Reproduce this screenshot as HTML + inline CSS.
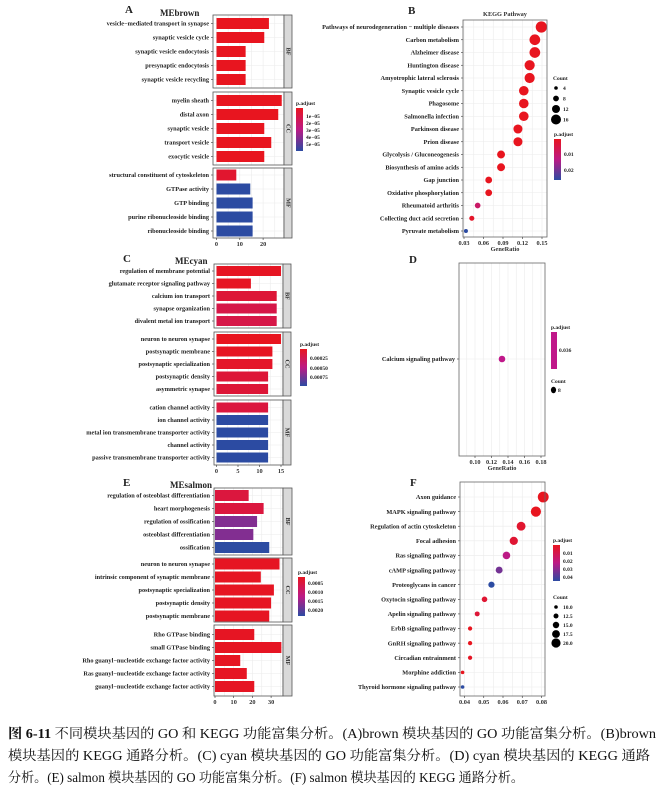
<!DOCTYPE html>
<html><head><meta charset="utf-8"><style>
html,body{margin:0;padding:0;background:#fff;}
svg{display:block;}
text{font-family:"Liberation Serif","Noto Serif CJK SC",serif;}
.lbl{font-size:6.3px;font-weight:bold;fill:#222;}
.tick{font-size:6.3px;font-weight:bold;fill:#333;}
.ttl{font-size:9px;font-weight:bold;fill:#222;}
.pl{font-size:11px;font-weight:bold;fill:#222;}
.leg{font-size:5.5px;font-weight:bold;fill:#222;}
.cap{font-size:13.5px;fill:#111;}
</style></head><body>
<svg id="fig" width="660" height="801" viewBox="0 0 660 801" xmlns="http://www.w3.org/2000/svg">
<defs>
<linearGradient id="pgrad" x1="0" y1="0" x2="0" y2="1">
<stop offset="0" stop-color="#e8151f"/><stop offset="0.5" stop-color="#bc1a85"/><stop offset="1" stop-color="#2c4ba2"/>
</linearGradient>
</defs>
<g id="root"></g>
<g>
<text class="cap" x="8" y="738" textLength="648" lengthAdjust="spacingAndGlyphs"><tspan font-weight="bold">图 6-11</tspan> 不同模块基因的 GO 和 KEGG 功能富集分析。(A)brown 模块基因的 GO 功能富集分析。(B)brown</text>
<text class="cap" x="8" y="760" textLength="642" lengthAdjust="spacingAndGlyphs">模块基因的 KEGG 通路分析。(C) cyan 模块基因的 GO 功能富集分析。(D) cyan 模块基因的 KEGG 通路</text>
<text class="cap" x="8" y="782" textLength="516" lengthAdjust="spacingAndGlyphs">分析。(E) salmon 模块基因的 GO 功能富集分析。(F) salmon 模块基因的 KEGG 通路分析。</text>
</g>
</svg>
<script>
// ---- Panel A data ----
const aTerms=["vesicle−mediated transport in synapse","synaptic vesicle cycle","synaptic vesicle endocytosis","presynaptic endocytosis","synaptic vesicle recycling","myelin sheath","distal axon","synaptic vesicle","transport vesicle","exocytic vesicle","structural constituent of cytoskeleton","GTPase activity","GTP binding","purine ribonucleoside binding","ribonucleoside binding"];
const aCounts=[22.5,20.5,12.5,12.5,12.5,28,26.5,20.5,23.5,20.5,8.5,14.5,15.5,15.5,15.5];
const aPadj=[0,0,0,0,0,0,0,0,0,0,0.08,1,1,1,1];
const aTicks=[0,10,20];
// ---- Panel C data ----
const cTerms=["regulation of membrane potential","glutamate receptor signaling pathway","calcium ion transport","synapse organization","divalent metal ion transport","neuron to neuron synapse","postsynaptic membrane","postsynaptic specialization","postsynaptic density","asymmetric synapse","cation channel activity","ion channel activity","metal ion transmembrane transporter activity","channel activity","passive transmembrane transporter activity"];
const cCounts=[15,8,14,14,14,15,13,13,12,12,12,12,12,12,12];
const cPadj=[0.02,0.02,0.12,0.2,0.2,0,0.02,0.05,0.12,0.12,0.15,1,1,1,1];
const cTicks=[0,5,10,15];
// ---- Panel E data ----
const eTerms=["regulation of osteoblast differentiation","heart morphogenesis","regulation of ossification","osteoblast differentiation","ossification","neuron to neuron synapse","intrinsic component of synaptic membrane","postsynaptic specialization","postsynaptic density","postsynaptic membrane","Rho GTPase binding","small GTPase binding","Rho guanyl−nucleotide exchange factor activity","Ras guanyl−nucleotide exchange factor activity","guanyl−nucleotide exchange factor activity"];
const eCounts=[18,26,22.5,20.5,29,34.5,24.5,31.5,30,29,21,35.5,13.5,17,21];
const ePadj=[0.15,0.15,0.7,0.7,1,0.02,0.02,0.02,0.02,0.02,0.02,0.02,0.02,0.02,0.02];
const eTicks=[0,10,20,30];
// ---- Panel B data ----
const bTerms=["Pathways of neurodegeneration − multiple diseases","Carbon metabolism","Alzheimer disease","Huntington disease","Amyotrophic lateral sclerosis","Synaptic vesicle cycle","Phagosome","Salmonella infection","Parkinson disease","Prion disease","Glycolysis / Gluconeogenesis","Biosynthesis of amino acids","Gap junction","Oxidative phosphorylation","Rheumatoid arthritis","Collecting duct acid secretion","Pyruvate metabolism"];
const bRatio=[0.149,0.139,0.139,0.131,0.131,0.122,0.122,0.122,0.113,0.113,0.087,0.087,0.068,0.068,0.051,0.042,0.033];
const bCount=[17,16,16,15,15,14,14,14,13,13,11,11,9,9,7,6,4];
const bPadj=[0,0,0,0,0,0,0,0,0,0,0,0,0,0,0.35,0.05,1];
const bTicks=[0.03,0.06,0.09,0.12,0.15];
// ---- Panel D data ----
const dTerms=["Calcium signaling pathway"];
const dRatio=[0.1327];
const dCount=[8];
const dTicks=[0.10,0.12,0.14,0.16,0.18];
// ---- Panel F data ----
const fTerms=["Axon guidance","MAPK signaling pathway","Regulation of actin cytoskeleton","Focal adhesion","Ras signaling pathway","cAMP signaling pathway","Proteoglycans in cancer","Oxytocin signaling pathway","Apelin signaling pathway","ErbB signaling pathway","GnRH signaling pathway","Circadian entrainment","Morphine addiction","Thyroid hormone signaling pathway"];
const fRatio=[0.0809,0.0771,0.0694,0.0656,0.0618,0.058,0.054,0.0504,0.0466,0.0429,0.0429,0.0429,0.039,0.039];
const fCount=[21,20,18,17,16,15,14,13,12,11,11,11,10,10];
const fPadj=[0,0,0.08,0.1,0.5,0.75,1,0.1,0.12,0,0,0.03,0,1];
const fTicks=[0.04,0.05,0.06,0.07,0.08];

const NS="http://www.w3.org/2000/svg";
const root=document.getElementById('root');
function el(tag,attrs,parent,txt){const e=document.createElementNS(NS,tag);for(const k in attrs)e.setAttribute(k,attrs[k]);if(txt!==undefined)e.textContent=txt;(parent||root).appendChild(e);return e;}
function col(t){const s=[[232,21,31],[188,26,133],[44,75,162]];let a,b,u;if(t<=0.5){a=s[0];b=s[1];u=t/0.5;}else{a=s[1];b=s[2];u=(t-0.5)/0.5;}return 'rgb('+a.map((v,i)=>Math.round(v+(b[i]-v)*u)).join(',')+')';}

function barPanel(name,terms,counts,padj,ticks,o){
  const g=el('g',{});
  
  
  const xs=v=>o.x0+v*o.ppu;
  const strips=['BF','CC','MF'];
  o.facets.forEach((f,fi)=>{
    const fg=el('g',{},g);
    
    
    el('rect',{x:o.bx0,y:f[0],width:o.bx1-o.bx0,height:f[1]-f[0],fill:'#fff'},fg);
    const mt=[];for(let v=0;v<=ticks[ticks.length-1]+(ticks[1]-ticks[0]);v+=(ticks[1]-ticks[0])/2)mt.push(v);
    mt.forEach(v=>{const x=xs(v);if(x<o.bx1)el('line',{x1:x,x2:x,y1:f[0],y2:f[1],stroke:'#ebebeb','stroke-width':0.6},fg);});
    const off=(f[1]-f[0]-4*o.step)/2;
    for(let i=0;i<5;i++){const k=fi*5+i;const cy=f[0]+off+i*o.step;
      el('line',{x1:o.bx0,x2:o.bx1,y1:cy,y2:cy,stroke:'#ebebeb','stroke-width':0.6},fg);
      const r=el('rect',{x:xs(0),y:cy-o.bh/2,width:xs(counts[k])-xs(0),height:o.bh,fill:col(padj[k])},fg);
      
      
      const t=el('text',{x:o.bx0-4,y:cy+2.2,'text-anchor':'end',class:'lbl'},fg,terms[k]);
      
      
      el('line',{x1:o.bx0-2,x2:o.bx0,y1:cy,y2:cy,stroke:'#333','stroke-width':0.6},fg);
    }
    el('rect',{x:o.bx0,y:f[0],width:o.bx1-o.bx0,height:f[1]-f[0],fill:'none',stroke:'#555','stroke-width':0.8},fg);
    el('rect',{x:o.bx1,y:f[0],width:o.sw,height:f[1]-f[0],fill:'#d9d9d9',stroke:'#555','stroke-width':0.8},fg);
    const cx=o.bx1+o.sw/2,cy=(f[0]+f[1])/2;
    const st=el('text',{x:cx,y:cy,class:'tick','text-anchor':'middle',transform:'rotate(90 '+cx+' '+cy+')','dominant-baseline':'middle','font-size':'8px'},fg,strips[fi]);
    
    
  });
  const yb=o.facets[2][1];
  ticks.forEach(v=>{el('line',{x1:xs(v),x2:xs(v),y1:yb,y2:yb+2,stroke:'#333','stroke-width':0.6},g);
    const t=el('text',{x:xs(v),y:yb+8,'text-anchor':'middle',class:'tick'},g,String(v));
    
    });
}

function dotPanel(name,terms,ratio,count,padj,ticks,o){
  const g=el('g',{});
  
  
  const xs=v=>o.xa+(v-ticks[0])*(o.xb-o.xa)/(ticks[ticks.length-1]-ticks[0]);
  el('rect',{x:o.bx0,y:o.by0,width:o.bx1-o.bx0,height:o.by1-o.by0,fill:'#fff'},g);
  const stp=(ticks[1]-ticks[0])/2;
  for(let v=ticks[0]-stp;v<=ticks[ticks.length-1]+stp*1.01;v+=stp){const x=xs(v);if(x>o.bx0&&x<o.bx1)el('line',{x1:x,x2:x,y1:o.by0,y2:o.by1,stroke:'#ebebeb','stroke-width':0.6},g);}
  const n=terms.length;
  terms.forEach((tm,i)=>{const cy=n>1?o.ry0+i*(o.ry1-o.ry0)/(n-1):o.ry0;
    el('line',{x1:o.bx0,x2:o.bx1,y1:cy,y2:cy,stroke:'#ebebeb','stroke-width':0.6},g);
    el('line',{x1:o.bx0-2,x2:o.bx0,y1:cy,y2:cy,stroke:'#333','stroke-width':0.6},g);
    const t=el('text',{x:o.bx0-4,y:cy+2.2,'text-anchor':'end',class:'lbl'},g,tm);
    
    
    const r=o.r0+(count[i]-o.c0)*o.rk;
    const c=el('circle',{cx:xs(ratio[i]),cy:cy,r:r,fill:o.fixedColor||col(padj[i])},g);
    
    
  });
  el('rect',{x:o.bx0,y:o.by0,width:o.bx1-o.bx0,height:o.by1-o.by0,fill:'none',stroke:'#666','stroke-width':0.8},g);
  ticks.forEach(v=>{el('line',{x1:xs(v),x2:xs(v),y1:o.by1,y2:o.by1+2,stroke:'#333','stroke-width':0.6},g);
    const t=el('text',{x:xs(v),y:o.by1+8,'text-anchor':'middle',class:'tick'},g,v.toFixed(2));
    
    });
  if(o.xtitle){const t=el('text',{x:(o.bx0+o.bx1)/2,y:o.by1+14,'text-anchor':'middle',class:'tick','font-size':'6.8px'},g,'GeneRatio');
    
    }
}

function gradLegend(name,x,y,h,labels,labY){
  const g=el('g',{});
  
  
  el('text',{x:x,y:y,class:'leg'},g,'p.adjust');
  el('rect',{x:x,y:y+3,width:7,height:h,fill:'url(#pgrad)'},g);
  labels.forEach((l,i)=>el('text',{x:x+10,y:labY[i]+2,class:'leg'},g,l));
}
function sizeLegend(name,x,y,labels,rs,dy){
  const g=el('g',{});
  
  
  el('text',{x:x,y:y,class:'leg','font-size':'6px'},g,'Count');
  labels.forEach((l,i)=>{const cy=y+8+i*dy;el('circle',{cx:x+3,cy:cy,r:rs[i],fill:'#000'},g);el('text',{x:x+10,y:cy+2,class:'leg'},g,l);});
}
function txt(name,x,y,cls,s,anchor){const t=el('text',{x:x,y:y,class:cls,'text-anchor':anchor||'start'},root,s);
  
  }

// Panel A
txt('panel-label-a',125,13,'pl','A');
txt('title-mebrown',160,16,'ttl','MEbrown');
barPanel('panel-a-go-brown',aTerms,aCounts,aPadj,aTicks,{x0:216.5,ppu:2.33,bx0:213,bx1:284,sw:8,step:14,bh:11,facets:[[15,88],[92,165],[168,238]]});
gradLegend('legend-a-padjust',296,105,43,['1e−05','2e−05','3e−05','4e−05','5e−05'],[116,123,130,137,144]);

// Panel B
txt('panel-label-b',408,14,'pl','B');
txt('title-kegg-pathway',505,16,'tick','KEGG Pathway','middle');
dotPanel('panel-b-kegg-brown',bTerms,bRatio,bCount,bPadj,bTicks,{xa:464,xb:542,bx0:463,bx1:547,by0:20,by1:237,ry0:27,ry1:231,r0:2,c0:4,rk:0.28,xtitle:true});
sizeLegend('legend-b-count',553,80,['4','8','12','16'],[1.8,2.9,4,5],10.5);
gradLegend('legend-b-padjust',554,136,41,['0.01','0.02'],[154,170]);

// Panel C
txt('panel-label-c',123,262,'pl','C');
txt('title-mecyan',175,264,'ttl','MEcyan');
barPanel('panel-c-go-cyan',cTerms,cCounts,cPadj,cTicks,{x0:216.5,ppu:4.3,bx0:214,bx1:283,sw:8,step:12.5,bh:10,facets:[[264,328],[332,396],[400,465]]});
gradLegend('legend-c-padjust',300,346,37,['0.00025','0.00050','0.00075'],[358,368,377]);

// Panel D
txt('panel-label-d',409,263,'pl','D');
dotPanel('panel-d-kegg-cyan',dTerms,dRatio,dCount,[0.5],dTicks,{xa:475,xb:541,bx0:459,bx1:545,by0:263,by1:456,ry0:359,ry1:359,r0:3.3,c0:8,rk:0,fixedColor:'#c0188a',xtitle:true});
(function(){const g=el('g',{});
  
  
  el('text',{x:551,y:329,class:'leg'},g,'p.adjust');
  el('rect',{x:551,y:332,width:6,height:37,fill:'#c0188a'},g);
  el('text',{x:559,y:352,class:'leg'},g,'0.036');
  el('text',{x:551,y:383,class:'leg','font-size':'6px'},g,'Count');
  el('ellipse',{cx:553.5,cy:390,rx:2.6,ry:3.2,fill:'#000'},g);
  el('text',{x:558,y:392,class:'leg'},g,'8');})();

// Panel E
txt('panel-label-e',123,486,'pl','E');
txt('title-mesalmon',170,488,'ttl','MEsalmon');
barPanel('panel-e-go-salmon',eTerms,eCounts,ePadj,eTicks,{x0:215,ppu:1.87,bx0:214,bx1:283,sw:9,step:13,bh:11,facets:[[488,555],[558,622],[625,696]]});
gradLegend('legend-e-padjust',298,574,39,['0.0005','0.0010','0.0015','0.0020'],[583,592,601,610]);

// Panel F
txt('panel-label-f',410,486,'pl','F');
dotPanel('panel-f-kegg-salmon',fTerms,fRatio,fCount,fPadj,fTicks,{xa:464.5,xb:541.5,bx0:460,bx1:545,by0:482,by1:696,ry0:497,ry1:687,r0:1.8,c0:10,rk:0.33,xtitle:false});
gradLegend('legend-f-padjust',553,542,36,['0.01','0.02','0.03','0.04'],[553,561,569,577]);
sizeLegend('legend-f-count',553,599,['10.0','12.5','15.0','17.5','20.0'],[1.8,2.5,3.2,3.9,4.6],9);
</script>
</body></html>
